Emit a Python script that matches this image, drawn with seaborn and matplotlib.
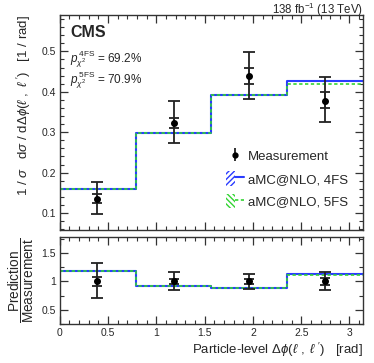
import numpy as np
import pandas as pd
import seaborn as sns
import matplotlib
matplotlib.use("Agg")
import matplotlib.pyplot as plt
from matplotlib.patches import Patch
from matplotlib.lines import Line2D
from matplotlib.legend_handler import HandlerTuple
from matplotlib.ticker import MultipleLocator

# binning in delta phi (rad)
edges = [0.0, np.pi / 4, np.pi / 2, 3 * np.pi / 4, np.pi]
centers = [0.39, 1.18, 1.96, 2.75]

# normalised measurement with total and stat uncertainties
meas = [0.135, 0.323, 0.439, 0.377]
tot_up = [0.177, 0.376, 0.498, 0.437]
tot_dn = [0.097, 0.273, 0.381, 0.325]
stat_up = [0.147, 0.336, 0.458, 0.400]
stat_dn = [0.125, 0.310, 0.420, 0.360]

# predictions
pred_4fs = [0.160, 0.297, 0.392, 0.426]
pred_5fs = [0.160, 0.298, 0.392, 0.420]

# ratio panel
ratio_4fs = [1.19, 0.92, 0.89, 1.13]
ratio_5fs = [1.19, 0.92, 0.89, 1.12]
rtot_up = [1.32, 1.17, 1.13, 1.16]
rtot_dn = [0.71, 0.85, 0.87, 0.85]
rstat_up = [1.08, 1.04, 1.04, 1.06]
rstat_dn = [0.92, 0.96, 0.96, 0.94]

BLUE = "#2a3cff"
GREEN = "#33d433"
ECOL = "#222222"
FRAME = "#333333"

sns.set_theme(style="ticks")
plt.rcParams["font.family"] = ["Liberation Sans", "DejaVu Sans"]
plt.rcParams["mathtext.fontset"] = "custom"
plt.rcParams["mathtext.rm"] = "Liberation Sans"
plt.rcParams["mathtext.it"] = "Liberation Sans:italic"
plt.rcParams["mathtext.bf"] = "Liberation Sans:bold"
plt.rcParams["hatch.linewidth"] = 1.0

fig = plt.figure(figsize=(3.74, 3.63), dpi=100)
ax = fig.add_axes([0.160, 0.3664, 0.811, 0.5923])
rx = fig.add_axes([0.160, 0.1074, 0.811, 0.2397])

df = pd.DataFrame({"x": centers, "p4": pred_4fs, "p5": pred_5fs,
                   "r4": ratio_4fs, "r5": ratio_5fs})


def steps(axis, col, color, ls, lw):
    sns.histplot(data=df, x="x", weights=col, bins=edges, element="step",
                 fill=False, color=color, linestyle=ls, linewidth=lw, ax=axis)


def points(axis, y, tu, td, su, sd):
    y = np.asarray(y)
    axis.errorbar(centers, y, yerr=[y - np.asarray(td), np.asarray(tu) - y],
                  fmt="none", ecolor=ECOL, elinewidth=1.3, capsize=4.5,
                  capthick=1.3, zorder=5)
    axis.errorbar(centers, y, yerr=[y - np.asarray(sd), np.asarray(su) - y],
                  fmt="o", color="black", ecolor=ECOL, elinewidth=1.3,
                  capsize=3.5, capthick=1.3, markersize=4, zorder=6)


steps(ax, "p4", BLUE, "-", 1.5)
steps(ax, "p5", GREEN, (0, (2, 1.5)), 1.2)
points(ax, meas, tot_up, tot_dn, stat_up, stat_dn)

steps(rx, "r4", BLUE, "-", 1.5)
steps(rx, "r5", GREEN, (0, (2, 1.5)), 1.2)
points(rx, [1, 1, 1, 1], rtot_up, rtot_dn, rstat_up, rstat_dn)

for a in (ax, rx):
    a.set_xlim(0, np.pi)
    a.xaxis.set_major_locator(MultipleLocator(0.5))
    a.xaxis.set_minor_locator(MultipleLocator(0.1))
    a.tick_params(which="both", direction="in", top=True, right=True,
                  labelsize=7.5, color=FRAME, pad=3)
    a.tick_params(which="major", length=6, width=0.9)
    a.tick_params(which="minor", length=3, width=0.8)
    for s in a.spines.values():
        s.set_linewidth(1.0)
        s.set_color(FRAME)

ax.set_ylim(0.058, 0.59)
ax.yaxis.set_major_locator(MultipleLocator(0.1))
ax.yaxis.set_minor_locator(MultipleLocator(0.02))
ax.tick_params(axis="x", labelbottom=False)
ax.set_xlabel("")
ax.set_ylabel(r"$1\ /\ \sigma\quad \mathrm{d}\sigma\ /\ \mathrm{d}\mathit{\Delta\phi}(\ell\ ,\ \ell\ ')$   [1 / rad]",
              fontsize=9.5, loc="top", labelpad=6)

rx.set_ylim(0.25, 1.78)
rx.yaxis.set_major_locator(MultipleLocator(0.5))
rx.yaxis.set_minor_locator(MultipleLocator(0.25))
rx.set_yticks([0.5, 1, 1.5], ["0.5", "1", "1.5"])
rx.set_ylabel(r"$\dfrac{\mathrm{Prediction}}{\mathrm{Measurement}}$",
              fontsize=9.8, labelpad=4)
rx.set_xticks([0, 0.5, 1, 1.5, 2, 2.5, 3], ["0", "0.5", "1", "1.5", "2", "2.5", "3"])
rx.set_xlabel(r"Particle-level $\mathit{\Delta\phi}(\ell\ ,\ \ell\ ')$   [rad]",
              fontsize=9.5, loc="right", labelpad=2)

ax.text(0.035, 0.955, "CMS", transform=ax.transAxes, fontsize=11.5,
        fontweight="bold", va="top", ha="left")
ax.text(0.035, 0.795, r"$p^{\,\mathrm{4FS}}_{\chi^{2}}$ = 69.2%",
        transform=ax.transAxes, fontsize=8.5, va="center", ha="left")
ax.text(0.035, 0.695, r"$p^{\,\mathrm{5FS}}_{\chi^{2}}$ = 70.9%",
        transform=ax.transAxes, fontsize=8.5, va="center", ha="left")
fig.text(0.971, 0.962, r"138 fb$^{-1}$ (13 TeV)", fontsize=8.3,
         ha="right", va="baseline")

h_meas = ax.errorbar([], [], yerr=[], fmt="o", color="black", ecolor=ECOL,
                     elinewidth=1.3, capsize=3, markersize=3.5)
h4 = (Patch(facecolor="none", edgecolor=BLUE, hatch="//////", linewidth=0),
      Line2D([], [], color=BLUE, lw=1.5))
h5 = (Patch(facecolor="none", edgecolor=GREEN, hatch="\\\\\\\\\\\\", linewidth=0),
      Line2D([], [], color=GREEN, lw=1.2, ls=(0, (2, 1.5))))
ax.legend([h_meas, h4, h5], ["Measurement", "aMC@NLO, 4FS", "aMC@NLO, 5FS"],
          handler_map={tuple: HandlerTuple(ndivide=None, pad=0)},
          loc="lower right", bbox_to_anchor=(0.99, 0.045), frameon=False,
          fontsize=9.5, handlelength=1.4, handleheight=1.3,
          handletextpad=0.3, labelspacing=0.6)

fig.savefig("out.png", dpi=100)
